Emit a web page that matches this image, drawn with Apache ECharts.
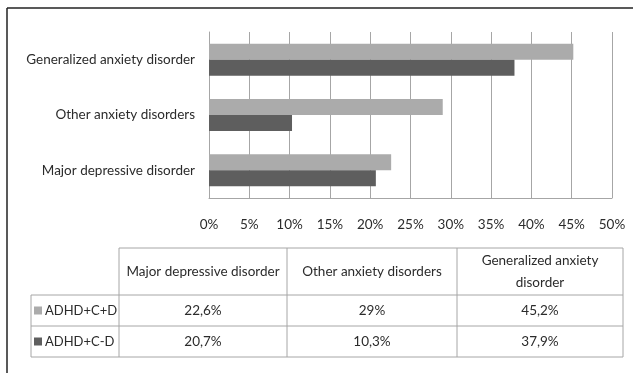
<!DOCTYPE html>
<html style="height: 100%">
<head>
    <meta charset="utf-8">
    <script src="https://cdn.jsdelivr.net/npm/echarts@6/dist/echarts.min.js"></script>
</head>
<body style="height: 100%; margin: 0; background-color: #fff">
    <div id="container" style="width: 633px; height: 373px"></div>
    <script type="text/javascript">
        // data
        var categories = ['Major depressive disorder', 'Other anxiety disorders', 'Generalized anxiety disorder'];
        var seriesNames = ['ADHD+C+D', 'ADHD+C-D'];
        var withDepression = [22.6, 29, 45.2];
        var withoutDepression = [20.7, 10.3, 37.9];
        var tickLabels = ['0%', '5%', '10%', '15%', '20%', '25%', '30%', '35%', '40%', '45%', '50%'];
        var headerLines = [['Major depressive disorder'], ['Other anxiety disorders'], ['Generalized anxiety', 'disorder']];

        var colors = ['#ababab', '#5e5e5e'];
        var font = 'Lato, "Open Sans", sans-serif';
        var fontSize = 13.5;
        var textColor = '#2b2b2b';
        var lineColor = '#a6a6a6';

        function fmt(v) {
            return String(v).replace('.', ',') + '%';
        }

        var dom = document.getElementById("container");
        var myChart = echarts.init(dom);

        // table geometry
        var colX = [31, 119, 287, 457, 623];
        var rowY = [248, 295, 326, 357];
        var g = [];
        function hline(x1, x2, y) {
            g.push({ type: 'line', shape: { x1: x1, y1: y, x2: x2, y2: y }, style: { stroke: lineColor, lineWidth: 1 } });
        }
        function vline(x, y1, y2) {
            g.push({ type: 'line', shape: { x1: x, y1: y1, x2: x, y2: y2 }, style: { stroke: lineColor, lineWidth: 1 } });
        }
        function txt(x, y, s, align, size) {
            g.push({ type: 'text', x: x, y: y, style: { text: s, fill: textColor, font: (size || fontSize) + 'px ' + font, textAlign: align || 'center', textVerticalAlign: 'middle' } });
        }

        // outer frame (top + left)
        g.push({ type: 'line', shape: { x1: 7, y1: 8, x2: 640, y2: 8 }, style: { stroke: '#222', lineWidth: 1.5 } });
        g.push({ type: 'line', shape: { x1: 7, y1: 8, x2: 7, y2: 380 }, style: { stroke: '#222', lineWidth: 1.5 } });

        hline(colX[1], colX[4], rowY[0]);
        hline(colX[0], colX[4], rowY[1]);
        hline(colX[0], colX[4], rowY[2]);
        hline(colX[0], colX[4], rowY[3]);
        vline(colX[0], rowY[1], rowY[3]);
        for (var i = 1; i < colX.length; i++) vline(colX[i], rowY[0], rowY[3]);

        for (var c = 0; c < categories.length; c++) {
            var cx = (colX[c + 1] + colX[c + 2]) / 2;
            var lines = headerLines[c];
            var my = (rowY[0] + rowY[1]) / 2;
            for (var k = 0; k < lines.length; k++) {
                txt(cx, my + (k - (lines.length - 1) / 2) * 22, lines[k]);
            }
            txt(cx, (rowY[1] + rowY[2]) / 2, fmt(withDepression[c]));
            txt(cx, (rowY[2] + rowY[3]) / 2, fmt(withoutDepression[c]));
        }
        for (var r = 0; r < seriesNames.length; r++) {
            var ry = (rowY[r + 1] + rowY[r + 2]) / 2;
            g.push({ type: 'rect', shape: { x: 34, y: ry - 4, width: 8, height: 8 }, style: { fill: colors[r] } });
            txt(45, ry, seriesNames[r], 'left', 13);
        }

        var option = {
            animation: false,
            grid: { left: 209, right: 21, top: 32, bottom: 175 },
            xAxis: {
                type: 'value',
                min: 0,
                max: 50,
                interval: 5,
                axisLine: { show: true, lineStyle: { color: lineColor } },
                axisTick: { show: false },
                axisLabel: {
                    margin: 20,
                    color: textColor,
                    fontFamily: font,
                    fontSize: fontSize,
                    formatter: function (v) { return tickLabels[Math.round(v / 5)]; }
                },
                splitLine: { lineStyle: { color: lineColor, width: 1 } }
            },
            yAxis: {
                type: 'category',
                data: categories,
                axisLine: { lineStyle: { color: lineColor } },
                axisTick: { show: false },
                axisLabel: { margin: 14, color: textColor, fontFamily: font, fontSize: fontSize },
                splitLine: { show: false }
            },
            series: [{
                name: seriesNames[0],
                type: 'bar',
                data: withDepression,
                barWidth: 16,
                barGap: '0%',
                itemStyle: { color: colors[0] }
            }, {
                name: seriesNames[1],
                type: 'bar',
                data: withoutDepression,
                barWidth: 16,
                barGap: '0%',
                itemStyle: { color: colors[1] }
            }],
            graphic: g
        };
        myChart.setOption(option);
    </script>
</body>
</html>
